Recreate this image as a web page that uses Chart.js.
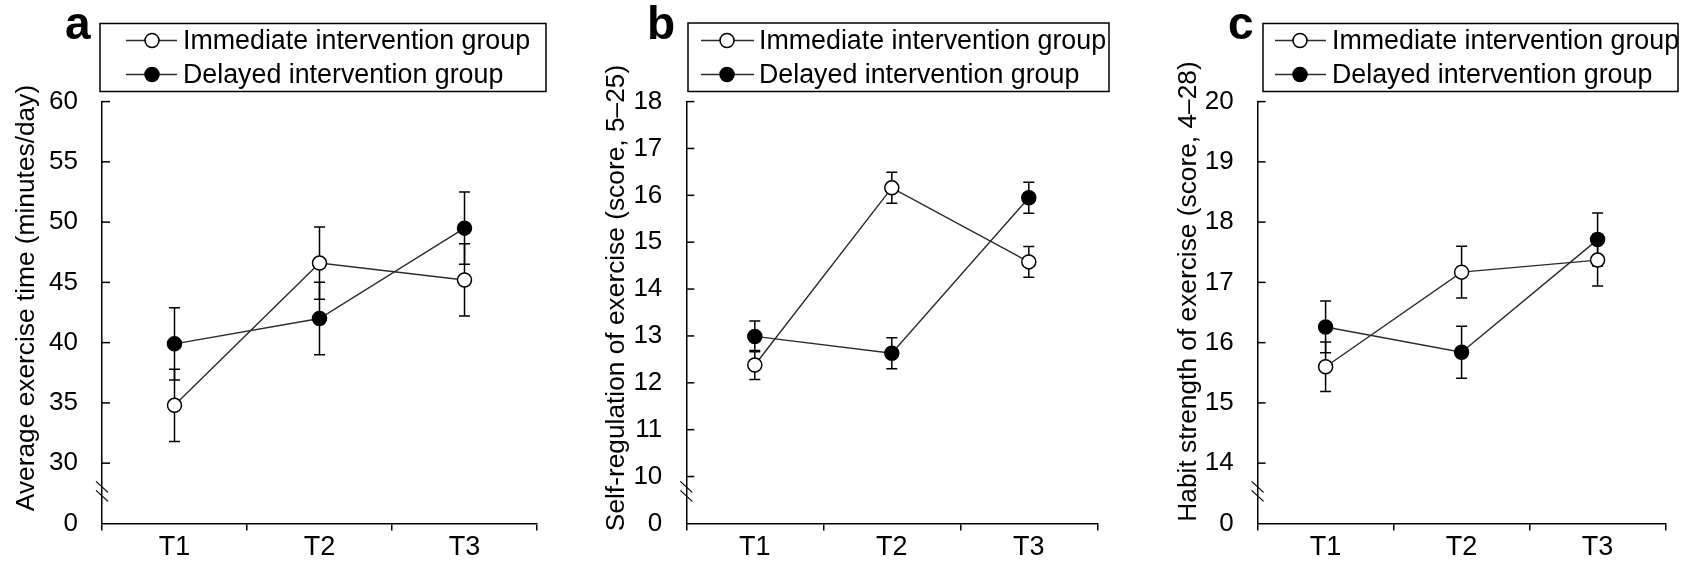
<!DOCTYPE html>
<html>
<head>
<meta charset="utf-8">
<script src="https://cdn.jsdelivr.net/npm/chart.js@4.4.1/dist/chart.umd.min.js"></script>
<style>
  html, body { margin: 0; padding: 0; background: #fff; }
  #wrap { position: relative; width: 1686px; height: 563px; }
  .panel { position: absolute; top: 0; width: 562px; height: 563px; }
</style>
</head>
<body>
<div id="wrap">
  <div class="panel" style="left:0px"><canvas id="chartA" width="562" height="563"></canvas></div>
  <div class="panel" style="left:562px"><canvas id="chartB" width="562" height="563"></canvas></div>
  <div class="panel" style="left:1124px"><canvas id="chartC" width="562" height="563"></canvas></div>
</div>
<script>
// data (mean +/- error)
const timepoints = ["T1", "T2", "T3"];
const groupNames = ["Immediate intervention group", "Delayed intervention group"];

const exerciseImmediate = [34.8, 46.6, 45.2];
const exerciseImmediateErr = [3.0, 3.0, 3.0];
const exerciseDelayed = [39.9, 42.0, 49.5];
const exerciseDelayedErr = [3.0, 3.0, 3.0];
const exerciseTicks = [25, 30, 35, 40, 45, 50, 55, 60];
const exerciseTickLabels = ["0", "30", "35", "40", "45", "50", "55", "60"];

const selfRegImmediate = [12.38, 16.16, 14.58];
const selfRegImmediateErr = [0.31, 0.33, 0.33];
const selfRegDelayed = [12.99, 12.63, 15.95];
const selfRegDelayedErr = [0.33, 0.33, 0.33];
const selfRegTicks = [9, 10, 11, 12, 13, 14, 15, 16, 17, 18];
const selfRegTickLabels = ["0", "10", "11", "12", "13", "14", "15", "16", "17", "18"];

const habitImmediate = [15.60, 17.17, 17.37];
const habitImmediateErr = [0.41, 0.43, 0.43];
const habitDelayed = [16.26, 15.84, 17.71];
const habitDelayedErr = [0.43, 0.43, 0.44];
const habitTicks = [13, 14, 15, 16, 17, 18, 19, 20];
const habitTickLabels = ["0", "14", "15", "16", "17", "18", "19", "20"];

const FONT = "'Liberation Sans', Arial, Helvetica, sans-serif";
const LINE_COLOR = "#2b2b2b";

const decor = {
  id: "decor",
  beforeDatasetsDraw(chart, args, o) {
    const ctx = chart.ctx;
    const ys = chart.scales.y;
    ctx.save();
    ctx.strokeStyle = "#000";
    ctx.lineWidth = 1.5;
    chart.data.datasets.forEach((ds, di) => {
      const meta = chart.getDatasetMeta(di);
      ds.data.forEach((v, i) => {
        const e = o.errors[di][i];
        const x = meta.data[i].x;
        const y1 = ys.getPixelForValue(v + e);
        const y2 = ys.getPixelForValue(v - e);
        ctx.beginPath();
        ctx.moveTo(x, y1); ctx.lineTo(x, y2);
        ctx.moveTo(x - 5.5, y1); ctx.lineTo(x + 5.5, y1);
        ctx.moveTo(x - 5.5, y2); ctx.lineTo(x + 5.5, y2);
        ctx.stroke();
      });
    });
    ctx.restore();
  },
  afterDraw(chart, args, o) {
    const ctx = chart.ctx;
    const area = chart.chartArea;
    const ys = chart.scales.y;
    ctx.save();
    ctx.strokeStyle = "#000";
    ctx.lineWidth = 1.5;

    // y ticks point inwards
    ys.ticks.forEach((t, i) => {
      if (i === 0) return;
      const y = ys.getPixelForValue(t.value);
      ctx.beginPath();
      ctx.moveTo(area.left, y); ctx.lineTo(area.left + 8, y);
      ctx.stroke();
    });

    // axis break marks
    ctx.lineWidth = 1.2;
    const by = area.bottom - 32;
    [-4.5, 4.5].forEach(dy => {
      ctx.beginPath();
      ctx.moveTo(area.left - 6, by + dy - 5.5);
      ctx.lineTo(area.left + 6, by + dy + 5.5);
      ctx.stroke();
    });

    // legend box
    const L = o.legend;
    ctx.lineWidth = 1.5;
    ctx.strokeRect(L.box[0], L.box[1], L.box[2] - L.box[0], L.box[3] - L.box[1]);
    ctx.font = "26.8px " + FONT;
    ctx.textBaseline = "middle";
    ctx.textAlign = "left";
    chart.data.datasets.forEach((ds, di) => {
      const y = L.rows[di];
      ctx.strokeStyle = LINE_COLOR;
      ctx.lineWidth = 1.4;
      ctx.beginPath();
      ctx.moveTo(L.sample[0], y); ctx.lineTo(L.sample[1], y);
      ctx.stroke();
      ctx.beginPath();
      ctx.arc(L.marker, y, 7, 0, Math.PI * 2);
      ctx.fillStyle = ds.pointBackgroundColor;
      ctx.fill();
      ctx.strokeStyle = "#000";
      ctx.lineWidth = 1.5;
      ctx.stroke();
      ctx.fillStyle = "#000";
      ctx.fillText(ds.label, L.text, y + 1);
    });

    // panel letter
    ctx.font = "bold 46px " + FONT;
    ctx.textBaseline = "alphabetic";
    ctx.fillText(o.letter, o.letterX, 38.5);

    // y axis title
    ctx.translate(o.titleX, o.titleY);
    ctx.rotate(-Math.PI / 2);
    ctx.font = "26.3px " + FONT;
    ctx.textAlign = "center";
    ctx.textBaseline = "middle";
    ctx.fillText(o.title, 0, 0);
    ctx.restore();
  }
};

function makePanel(id, cfg) {
  const canvas = document.getElementById(id);
  const W = canvas.width;
  return new Chart(canvas, {
    type: "line",
    data: {
      labels: timepoints,
      datasets: [
        {
          label: groupNames[0],
          data: cfg.immediate,
          borderColor: LINE_COLOR,
          borderWidth: 1.4,
          pointRadius: 7,
          pointBackgroundColor: "#fff",
          pointBorderColor: "#000",
          pointBorderWidth: 1.5,
          tension: 0
        },
        {
          label: groupNames[1],
          data: cfg.delayed,
          borderColor: LINE_COLOR,
          borderWidth: 1.4,
          pointRadius: 7,
          pointBackgroundColor: "#000",
          pointBorderColor: "#000",
          pointBorderWidth: 1.5,
          tension: 0
        }
      ]
    },
    options: {
      responsive: false,
      animation: false,
      events: [],
      layout: { padding: { top: 101.6, right: W - cfg.right, left: 0, bottom: 0 } },
      scales: {
        x: {
          offset: true,
          afterFit: s => { s.height = 39; },
          grid: { offset: true, drawOnChartArea: false, tickLength: 7, color: "#000", lineWidth: 1.5 },
          border: { color: "#000", width: 1.5 },
          ticks: { padding: 1, color: "#000", font: { family: FONT, size: 27 } }
        },
        y: {
          min: cfg.ticks[0],
          max: cfg.ticks[cfg.ticks.length - 1],
          afterFit: s => { s.width = cfg.left; },
          afterBuildTicks: s => { s.ticks = cfg.ticks.map(v => ({ value: v })); },
          grid: { drawOnChartArea: false, drawTicks: false },
          border: { color: "#000", width: 1.5 },
          ticks: {
            padding: 24,
            color: "#000",
            font: { family: FONT, size: 26 },
            callback: (v, i) => cfg.tickLabels[i]
          }
        }
      },
      plugins: {
        legend: { display: false },
        tooltip: { enabled: false },
        decor: {
          errors: cfg.errors,
          legend: cfg.legend,
          letter: cfg.letter,
          letterX: cfg.letterX,
          title: cfg.title,
          titleX: cfg.titleX,
          titleY: cfg.titleY
        }
      }
    },
    plugins: [decor]
  });
}

makePanel("chartA", {
  immediate: exerciseImmediate,
  delayed: exerciseDelayed,
  errors: [exerciseImmediateErr, exerciseDelayedErr],
  ticks: exerciseTicks,
  tickLabels: exerciseTickLabels,
  left: 102, right: 537,
  letter: "a", letterX: 65,
  title: "Average exercise time (minutes/day)", titleX: 27, titleY: 298,
  legend: { box: [100, 23.5, 546, 91.5], sample: [126, 177], marker: 152, text: 183, rows: [40.5, 74.5] }
});

makePanel("chartB", {
  immediate: selfRegImmediate,
  delayed: selfRegDelayed,
  errors: [selfRegImmediateErr, selfRegDelayedErr],
  ticks: selfRegTicks,
  tickLabels: selfRegTickLabels,
  left: 124.3, right: 535.3,
  letter: "b", letterX: 85,
  title: "Self-regulation of exercise (score, 5\u201325)", titleX: 55, titleY: 298,
  legend: { box: [126, 23, 547, 91.5], sample: [139, 192], marker: 165, text: 197, rows: [40.5, 74.5] }
});

makePanel("chartC", {
  immediate: habitImmediate,
  delayed: habitDelayed,
  errors: [habitImmediateErr, habitDelayedErr],
  ticks: habitTicks,
  tickLabels: habitTickLabels,
  left: 133.6, right: 541.6,
  letter: "c", letterX: 104,
  title: "Habit strength of exercise (score, 4\u201328)", titleX: 65, titleY: 291.5,
  legend: { box: [139, 23.5, 554, 91.5], sample: [151, 202], marker: 176, text: 208, rows: [40.5, 74.5] }
});
</script>
</body>
</html>
